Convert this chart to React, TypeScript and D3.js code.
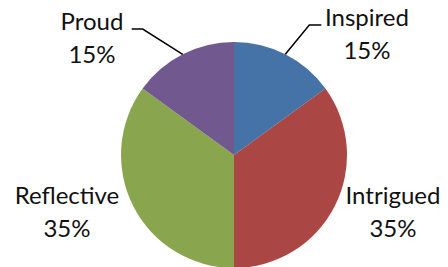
import { useEffect, useRef } from 'react';
import * as d3 from 'd3';

const categories = ['Inspired', 'Intrigued', 'Reflective', 'Proud'];
const values = [15, 35, 35, 15];
const colors = ['#4572A7', '#AA4643', '#89A54E', '#71588F'];

// label layout: text centre x, first baseline y, whether a leader line is drawn
const labelPos: Record<string, { x: number; y: number; leader: boolean }> = {
  Inspired: { x: 367, y: 26, leader: true },
  Intrigued: { x: 393, y: 204, leader: false },
  Reflective: { x: 67, y: 204, leader: false },
  Proud: { x: 92, y: 30, leader: true },
};

export default function App() {
  const svgRef = useRef<SVGSVGElement>(null);

  useEffect(() => {
    if (!svgRef.current) return;
    const svg = d3.select(svgRef.current);
    svg.selectAll('*').remove();

    const cx = 234;
    const cy = 155;
    const r = 113;

    const data = categories.map((c, i) => ({ name: c, value: values[i], color: colors[i] }));
    const pie = d3.pie<typeof data[0]>().sort(null).value(d => d.value);
    const arc = d3.arc<d3.PieArcDatum<typeof data[0]>>().innerRadius(0).outerRadius(r);
    const arcs = pie(data);

    const g = svg.append('g').attr('transform', `translate(${cx},${cy})`);

    g.selectAll('path')
      .data(arcs)
      .join('path')
      .attr('d', arc)
      .attr('fill', d => d.data.color);

    const total = d3.sum(values);

    // leader lines
    arcs.forEach(a => {
      const lp = labelPos[a.data.name];
      if (!lp.leader) return;
      const mid = (a.startAngle + a.endAngle) / 2;
      const ex = Math.sin(mid) * r;
      const ey = -Math.cos(mid) * r;
      const right = ex > 0;
      const ly = lp.y - 1 - cy;
      const elbowX = right ? ex + 24 : ex - 40;
      const endX = right ? elbowX + 12 : elbowX - 11;
      g.append('polyline')
        .attr('points', `${ex},${ey} ${elbowX},${ly} ${endX},${ly}`)
        .attr('fill', 'none')
        .attr('stroke', '#000')
        .attr('stroke-width', 1.5);
    });

    const labels = svg.append('g')
      .attr('font-family', 'Lato, sans-serif')
      .attr('font-size', 24)
      .attr('fill', '#111')
      .attr('text-anchor', 'middle');

    arcs.forEach(a => {
      const lp = labelPos[a.data.name];
      const t = labels.append('text').attr('x', lp.x).attr('y', lp.y);
      t.append('tspan').attr('x', lp.x).text(a.data.name);
      t.append('tspan').attr('x', lp.x).attr('dy', 33)
        .text(`${Math.round((a.data.value / total) * 100)}%`);
    });
  }, []);

  return (
    <svg
      ref={svgRef}
      width={448}
      height={267}
      style={{ position: 'absolute', left: 0, top: 0, background: '#fff' }}
    />
  );
}
